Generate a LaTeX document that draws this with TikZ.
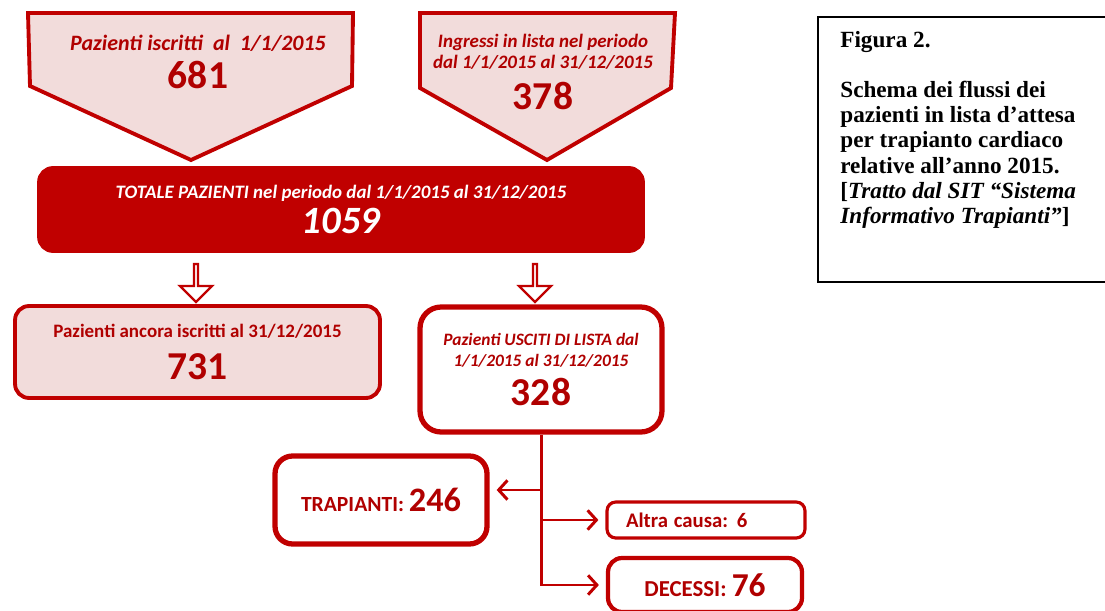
\documentclass[tikz,border=0pt]{standalone}
\usepackage{fontspec}
\setmainfont{Carlito}
\newfontfamily\captionfont{Liberation Serif}
\usepackage{tikz}
\usetikzlibrary{arrows.meta,shapes.arrows}
\definecolor{ListRed}{HTML}{C00000}
\definecolor{ListText}{HTML}{B00000}
\definecolor{ListPink}{HTML}{F2DCDB}
\newcommand{\lblsize}{\fontsize{10.8}{13}\selectfont}
\newcommand{\numsize}{\fontsize{22.5}{25}\selectfont}

\begin{document}
\begin{tikzpicture}[
  x=0.02cm, y=-0.02cm,
  penta/.style={draw=ListRed, line width=2.2pt, fill=ListPink, line join=miter},
  box/.style={draw=ListRed, rounded corners=8pt, line width=2.2pt, align=center, inner sep=2pt, text=ListText},
  total/.style={box, fill=ListRed, text=white, font=\bfseries\itshape},
  hollow/.style={single arrow, draw=ListRed, fill=white, line width=1.3pt, minimum width=0.64cm,
    single arrow head extend=0.16cm, minimum height=0.76cm, inner sep=0pt, shape border rotate=270},
  flow/.style={draw=ListRed, line width=1.7pt, -{Straight Barb[length=5pt,width=11pt]}, shorten >=4pt}
]
\clip (0,0) rectangle (1105,611);

% inputs
\draw[penta] (28,13) -- (353,13) -- (352,86) -- (191,160) -- (30,86) -- cycle;
\draw[penta] (420,13) -- (675,13) -- (671,88) -- (547,160) -- (420,88) -- cycle;
\node[text=ListText, font=\bfseries\itshape, align=center] (iscritti) at (198,62)
  {\fontsize{12.5}{15}\selectfont Pazienti iscritti\ \ al\ \ 1/1/2015\\[5pt]\upshape\numsize 681};
\node[text=ListText, font=\bfseries\itshape, align=center] (ingressi) at (543,72)
  {\lblsize Ingressi in lista nel periodo\\\lblsize dal 1/1/2015 al 31/12/2015\\[6pt]\upshape\numsize 378};

% total
\node[total, minimum width=12.08cm, minimum height=1.66cm] (totale) at (341,209.5)
  {\lblsize TOTALE PAZIENTI nel periodo dal 1/1/2015 al 31/12/2015\\[3pt]\fontsize{22}{25}\selectfont 1059};

\node[hollow] (downA) at (196,282) {};
\node[hollow] (downB) at (535,282) {};

% outputs
\node[box, fill=ListPink, font=\bfseries, minimum width=7.3cm, minimum height=1.84cm] (ancora) at (197.5,352)
  {\lblsize Pazienti ancora iscritti al 31/12/2015\\[8pt]\numsize 731};
\node[box, fill=white, line width=3pt, rounded corners=12pt, font=\bfseries\itshape,
  minimum width=4.84cm, minimum height=2.5cm] (uscite) at (541,369.5)
  {\fontsize{9.9}{11.5}\selectfont Pazienti USCITI DI LISTA dal\\\fontsize{9.9}{11.5}\selectfont 1/1/2015 al 31/12/2015\\[5pt]\upshape\numsize 328};

\node[box, fill=white, line width=3pt, rounded corners=10pt, font=\bfseries,
  minimum width=4.24cm, minimum height=1.76cm] (trapianti) at (381,500)
  {\fontsize{12.3}{14}\selectfont TRAPIANTI: \fontsize{19.5}{22}\selectfont 246};
\node[box, fill=white, line width=1.8pt, rounded corners=5pt, font=\bfseries,
  minimum width=3.96cm, minimum height=0.72cm, text width=3.2cm, align=left] (altra) at (706,520)
  {\fontsize{11.8}{13}\selectfont Altra causa: 6};
\node[box, fill=white, line width=2.4pt, rounded corners=8pt, font=\bfseries,
  minimum width=3.88cm, minimum height=1.08cm] (decessi) at (705,585)
  {\fontsize{13}{15}\selectfont DECESSI: \fontsize{19}{22}\selectfont 76};

\coordinate (forkT) at (541,490);
\draw[flow] (uscite.south) |- (decessi.west);
\draw[flow] (forkT) -- (forkT -| trapianti.east);
\draw[flow] (uscite.south |- altra.west) -- (altra.west);

% caption
\draw[line width=1.5pt] (818,17) rectangle (1120,282);
\node[anchor=north west, align=left, inner sep=0pt, font=\captionfont\bfseries\fontsize{13.2}{14.3}\selectfont] (caption) at (840,31)
  {Figura 2.\\[14.3pt]
   Schema dei flussi dei\\
   pazienti in lista d’attesa\\
   per trapianto cardiaco\\
   relative all’anno 2015.\\
   {[}\textit{Tratto dal SIT “Sistema}\\
   \textit{Informativo Trapianti”}]};
\end{tikzpicture}
\end{document}
